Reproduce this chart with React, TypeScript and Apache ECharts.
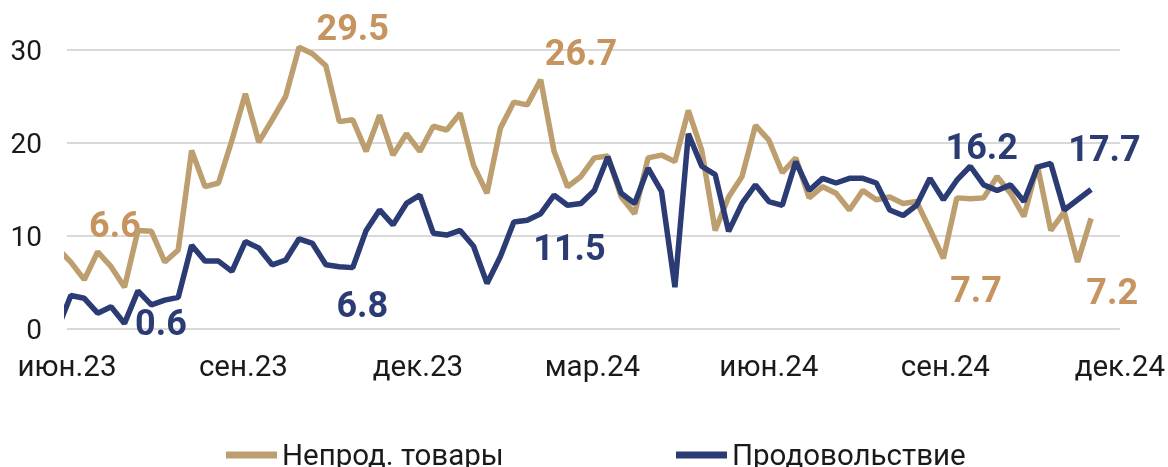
import React, { useEffect, useRef } from "react";
import * as echarts from "echarts";

const DAY = 86400000;
// weekly observations, first one (27 May 2023) lies just left of the axis start
const firstWeek = Date.UTC(2023, 4, 27);

const seriesNames = ["Непрод. товары", "Продовольствие"];

const nonFood = [
  8.7, 7.2, 5.3, 8.3, 6.7, 4.5, 10.6, 10.5, 7.2, 8.5, 19.2, 15.3, 15.7, 20.3, 25.3, 20.1,
  22.5, 25.0, 30.3, 29.6, 28.3, 22.3, 22.5, 19.1, 23.0, 18.7, 21.0, 19.1, 21.8, 21.4, 23.2,
  17.6, 14.6, 21.6, 24.4, 24.1, 26.8, 19.1, 15.3, 16.4, 18.4, 18.6, 14.2, 12.4, 18.4, 18.7,
  18.0, 23.5, 19.2, 10.6, 14.2, 16.4, 21.9, 20.3, 16.8, 18.4, 14.1, 15.3, 14.6, 12.8, 14.9,
  13.9, 14.2, 13.5, 13.7, 10.7, 7.6, 14.1, 14.0, 14.1, 16.4, 14.6, 12.1, 17.6, 10.6, 12.6,
  7.2, 11.9,
];

const food = [
  0.0, 3.6, 3.3, 1.7, 2.4, 0.6, 4.1, 2.6, 3.1, 3.4, 9.0, 7.3, 7.3, 6.2, 9.4, 8.7, 6.9, 7.4,
  9.7, 9.2, 6.9, 6.7, 6.6, 10.6, 12.8, 11.2, 13.5, 14.4, 10.3, 10.1, 10.6, 8.9, 4.9, 7.8,
  11.5, 11.7, 12.4, 14.4, 13.3, 13.5, 14.9, 18.5, 14.6, 13.5, 17.3, 14.8, 4.5, 21.0, 17.5,
  16.6, 10.5, 13.5, 15.5, 13.7, 13.3, 18.0, 14.9, 16.2, 15.7, 16.2, 16.2, 15.7, 12.8, 12.2,
  13.3, 16.2, 13.9, 16.0, 17.5, 15.5, 14.9, 15.5, 13.7, 17.4, 17.8, 12.8, 13.9, 15.0,
];

const weekDates = nonFood.map((_, i) => firstWeek + i * 7 * DAY);

const axisStart = Date.UTC(2023, 5, 1);
const axisEnd = Date.UTC(2024, 11, 1);
const xTickDates = [
  Date.UTC(2023, 5, 1),
  Date.UTC(2023, 8, 1),
  Date.UTC(2023, 11, 1),
  Date.UTC(2024, 2, 1),
  Date.UTC(2024, 5, 1),
  Date.UTC(2024, 8, 1),
  Date.UTC(2024, 11, 1),
];
const monthNames = ["янв", "фев", "мар", "апр", "май", "июн", "июл", "авг", "сен", "окт", "ноя", "дек"];

const yMin = 0;
const yMax = 32;
const yStep = 10;

// annotation labels: text, series index, anchor date and value
const annText = ["29.5", "6.6", "0.6", "6.8", "26.7", "11.5", "16.2", "17.7", "7.7", "7.2"];
const annSeries = [0, 0, 1, 1, 0, 1, 1, 1, 0, 0];
const annDate = [
  Date.UTC(2023, 9, 28),
  Date.UTC(2023, 5, 26),
  Date.UTC(2023, 6, 20),
  Date.UTC(2023, 10, 2),
  Date.UTC(2024, 1, 24),
  Date.UTC(2024, 1, 18),
  Date.UTC(2024, 8, 20),
  Date.UTC(2024, 10, 23),
  Date.UTC(2024, 8, 17),
  Date.UTC(2024, 10, 27),
];
const annValue = [32.4, 11.2, 0.65, 2.6, 29.7, 8.7, 19.6, 19.4, 4.2, 4.0];

const lineColors = ["#BD9E6F", "#2B3B74"];
const labelColors = ["#C6955F", "#2B3B74"];
const FONT = "Roboto, 'Noto Sans', sans-serif";

export default function App() {
  const ref = useRef<HTMLDivElement>(null);

  useEffect(() => {
    if (!ref.current) return;
    const chart = echarts.init(ref.current, undefined, { renderer: "svg" });
    const seriesData = [nonFood, food];
    const legendBase = {
      top: 435,
      icon: "rect",
      itemWidth: 51,
      itemHeight: 7,
      textStyle: { fontSize: 29.5, color: "#1a1a1a", fontFamily: FONT },
    };
    chart.setOption({
      animation: false,
      grid: { left: 67, right: 48, top: 31.4, bottom: 138, containLabel: false },
      legend: [
        { ...legendBase, data: [seriesNames[0]], left: 221 },
        { ...legendBase, data: [seriesNames[1]], left: 671 },
      ],
      xAxis: {
        type: "value",
        min: axisStart,
        max: axisEnd,
        axisLine: { show: false },
        axisTick: { show: false },
        splitLine: { show: false },
        axisLabel: {
          customValues: xTickDates,
          margin: 22,
          fontSize: 29.5,
          color: "#1a1a1a",
          fontFamily: FONT,
          hideOverlap: false,
          formatter: (v: number) => {
            const d = new Date(v);
            return monthNames[d.getUTCMonth()] + "." + String(d.getUTCFullYear()).slice(2);
          },
        },
      },
      yAxis: {
        type: "value",
        min: yMin,
        max: yMax,
        interval: yStep,
        axisLine: { show: false },
        axisTick: { show: false },
        axisLabel: {
          showMaxLabel: false,
          margin: 25,
          fontSize: 28,
          color: "#1a1a1a",
          fontFamily: FONT,
        },
        splitLine: { show: true, showMaxLine: false, lineStyle: { color: "#D9D9D9", width: 2 } },
      },
      series: seriesNames.map((name, si) => ({
        name,
        type: "line",
        data: weekDates.map((d, i) => [d, seriesData[si][i]]),
        symbol: "none",
        clip: true,
        lineStyle: { color: lineColors[si], width: 5.5 },
        itemStyle: { color: lineColors[si] },
      })),
    });

    const graphics = annText.map((t, i) => {
      const p = chart.convertToPixel({ gridIndex: 0 }, [annDate[i], annValue[i]]) as number[];
      return {
        type: "text",
        x: p[0],
        y: p[1],
        style: {
          text: t,
          fill: labelColors[annSeries[i]],
          font: `bold 36px ${FONT}`,
          align: "center",
          verticalAlign: "middle",
        },
      };
    });
    chart.setOption({ graphic: graphics });

    return () => chart.dispose();
  }, []);

  return (
    <div
      ref={ref}
      style={{ position: "fixed", left: 0, top: 0, width: 1168, height: 467 }}
    />
  );
}
